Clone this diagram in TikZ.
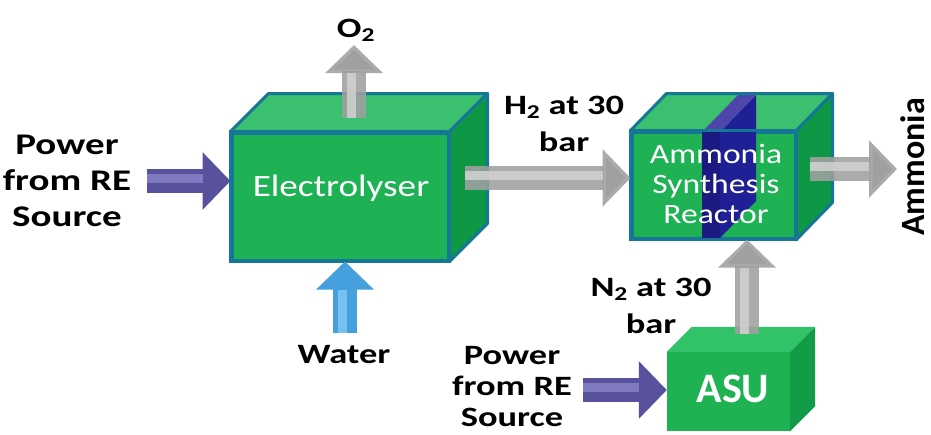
\documentclass[tikz,border=0pt]{standalone}
\usepackage{fontspec}
\setmainfont{Carlito}
\newfontfamily\lblfont[FakeStretch=1.3]{Carlito}
\newfontfamily\boxfont[FakeStretch=1.2]{Carlito}
\usetikzlibrary{arrows.meta,calc}
\definecolor{bord}{RGB}{22,118,150}
\definecolor{gfront}{RGB}{30,178,84}
\definecolor{gtop}{RGB}{58,192,110}
\definecolor{gside}{RGB}{14,152,70}
\definecolor{afront}{RGB}{30,178,82}
\definecolor{atop}{RGB}{50,194,104}
\definecolor{aside}{RGB}{18,156,72}
\definecolor{slabf}{RGB}{26,26,130}
\definecolor{slabs}{RGB}{32,32,150}
\definecolor{slabt}{RGB}{78,70,170}
\definecolor{pmain}{RGB}{88,82,158}
\definecolor{plight}{RGB}{128,122,192}
\definecolor{bmain}{RGB}{70,160,222}
\definecolor{blight}{RGB}{120,192,240}
\definecolor{gmain}{RGB}{160,160,160}
\definecolor{glight}{RGB}{208,208,208}
\tikzset{
  frontbox/.style={rectangle, draw=bord, line width=3pt, fill=gfront, inner sep=0pt},
  facetop/.style={fill=gtop, draw=bord, line width=3pt, line join=round},
  faceside/.style={fill=gside, draw=bord, line width=3pt, line join=round},
  boxtext/.style={text=white, font=\boxfont\fontsize{31}{31}\selectfont},
  lbl/.style={align=center, text=black, font=\lblfont\fontsize{28}{35}\selectfont\bfseries},
  arrowtip/.style={-{Triangle[width=56pt,length=28pt]}},
}
\newcommand\harr[4]{%
  \draw[#3, line width=24pt, arrowtip] (#1) -- (#2);
  \draw[#4, line width=9pt] ([yshift=3pt]#1) -- ([xshift=-28pt,yshift=3pt]#2);
}
\newcommand\varr[4]{%
  \draw[#3, line width=24pt, arrowtip] (#1) -- (#2);
  \draw[#4, line width=9pt] ([xshift=-3pt]#1) -- ([xshift=-3pt,yshift=-28pt]#2);
}
\begin{document}
\begin{tikzpicture}[x=1pt,y=-1pt]
\useasboundingbox (0,0) rectangle (931,434);
\fill[white] (0,0) rectangle (931,434);

% Electrolyser
\node[frontbox, minimum width=216pt, minimum height=127pt] (ely) at (340,196.5) {};
\draw[facetop] (ely.north west) -- ++(38,-38) -- ($(ely.north east)+(38,-38)$) -- (ely.north east) -- cycle;
\draw[faceside] (ely.north east) -- ++(38,-38) -- ($(ely.south east)+(38,-38)$) -- (ely.south east) -- cycle;
\draw[bord, line width=3pt] (ely.north west) rectangle (ely.south east);
\node[boxtext] (elyt) at (341,188) {Electrolyser};

% Reactor
\node[frontbox, minimum width=163pt, minimum height=106pt] (rea) at (713.5,185) {};
\draw[facetop] (rea.north west) -- ++(36,-37) -- ($(rea.north east)+(36,-37)$) -- (rea.north east) -- cycle;
\draw[faceside] (rea.north east) -- ++(36,-37) -- ($(rea.south east)+(36,-37)$) -- (rea.south east) -- cycle;
% slab
\fill[slabs] (720,132) -- (756,95) -- (756,201) -- (720,238) -- cycle;
\fill[slabt] (702,132) -- (738,95) -- (756,95) -- (720,132) -- cycle;
\fill[slabf] (702,132) rectangle (720,238);
\draw[bord, line width=3pt] (rea.north west) rectangle (rea.south east);
\node[boxtext, align=center, font=\boxfont\fontsize{28}{30}\selectfont] (reat) at (716,184) {Ammonia\\Synthesis\\Reactor};

% ASU
\node[rectangle, fill=afront, minimum width=123pt, minimum height=79pt, inner sep=0pt] (asu) at (728.5,391.5) {};
\fill[atop] (asu.north west) -- ++(25,-25) -- ($(asu.north east)+(25,-25)$) -- (asu.north east) -- cycle;
\fill[aside] (asu.north east) -- ++(25,-25) -- ($(asu.south east)+(25,-25)$) -- (asu.south east) -- cycle;
\node[text=white, font=\fontsize{42}{42}\selectfont\bfseries] (asut) at (733,389) {ASU};

% coordinates for arrows
\coordinate (p1s) at (147,181);
\coordinate (p1e) at (p1s -| ely.west);
\coordinate (o2s) at (354,118);
\coordinate (o2e) at (354,45);
\coordinate (ws) at (345,333);
\coordinate (we) at (ws |- ely.south);
\coordinate (h2s) at (465,178);
\coordinate (h2e) at (h2s -| rea.west);
\coordinate (ams) at (810,169);
\coordinate (ame) at (897,169);
\coordinate (n2s) at (747,334);
\coordinate (n2e) at (n2s |- rea.south);
\coordinate (p2s) at (583,390);
\coordinate (p2e) at (p2s -| asu.west);

% arrows
\harr{p1s}{p1e}{pmain}{plight}
\harr{p2s}{p2e}{pmain}{plight}
\varr{ws}{we}{bmain}{blight}
\begin{scope}[draw opacity=0.88]
\varr{o2s}{o2e}{gmain}{glight}
\harr{h2s}{h2e}{gmain}{glight}
\harr{ams}{ame}{gmain}{glight}
\varr{n2s}{n2e}{gmain}{glight}
\end{scope}

% labels
\node[lbl, font=\lblfont\fontsize{30}{36}\selectfont\bfseries] (lp1) at (67,181) {Power\\from RE\\Source};
\node[lbl, font=\lblfont\fontsize{28}{31}\selectfont\bfseries] (lp2) at (512,387) {Power\\from RE\\Source};
\node[lbl] (lo2) at (356,30) {O\textsubscript{2}};
\node[lbl] (lw) at (344,355) {Water};
\node[lbl, font=\lblfont\fontsize{28}{37}\selectfont\bfseries] (lh2) at (564,124) {H\textsubscript{2} at 30\\bar};
\node[lbl, font=\lblfont\fontsize{28}{37}\selectfont\bfseries] (ln2) at (651,306) {N\textsubscript{2} at 30\\bar};
\node[text=black, font=\fontsize{34}{34}\selectfont\bfseries, rotate=90, anchor=base, inner sep=0pt] (lam) at (924,167) {Ammonia};
\end{tikzpicture}
\end{document}
